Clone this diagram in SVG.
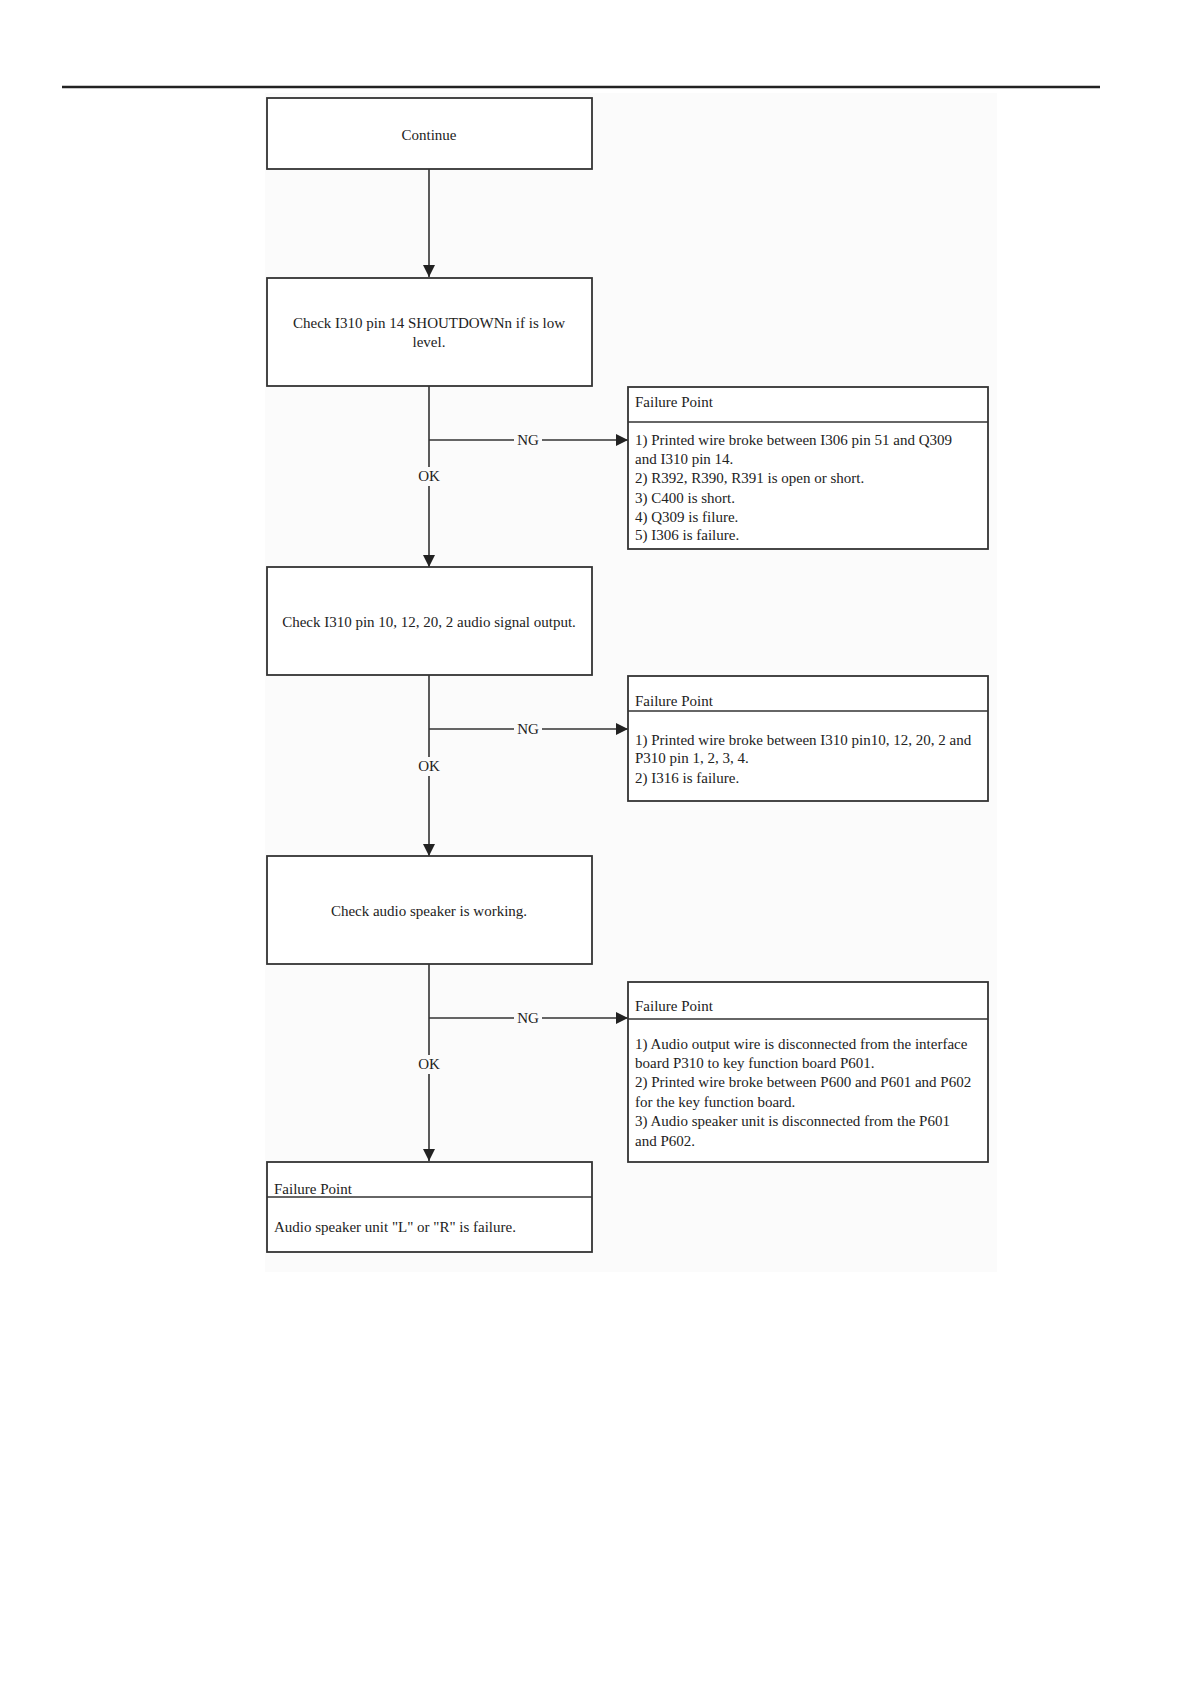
<svg xmlns="http://www.w3.org/2000/svg" width="1191" height="1685" viewBox="0 0 1191 1685">
<style>
.box{fill:#ffffff;stroke:#333333;stroke-width:1.8}
.ln{stroke:#333333;stroke-width:1.6;fill:none}
.t{font-family:"Liberation Serif","Times New Roman",serif;font-size:15px;fill:#222222}
.c{text-anchor:middle}
.lbl{font-family:"Liberation Serif","Times New Roman",serif;font-size:15px;fill:#222222;text-anchor:middle}
</style>
<defs>
<marker id="arr" viewBox="0 0 12 12" refX="12" refY="6" markerWidth="12" markerHeight="12" markerUnits="userSpaceOnUse" orient="auto">
<path d="M0,0 L12,6 L0,12 Z" fill="#222222"/>
</marker>
</defs>
<rect x="0" y="0" width="1191" height="1685" fill="#ffffff"/>
<line x1="62" y1="87" x2="1100" y2="87" stroke="#222222" stroke-width="2.5"/>
<rect x="265" y="93" width="732" height="1179" fill="#fbfbfb"/>

<g id="connectors">
<line class="ln" x1="429" y1="169" x2="429" y2="277" marker-end="url(#arr)"/>
<line class="ln" x1="429" y1="386" x2="429" y2="467"/>
<line class="ln" x1="429" y1="486" x2="429" y2="567" marker-end="url(#arr)"/>
<line class="ln" x1="429" y1="440" x2="514" y2="440"/>
<line class="ln" x1="542" y1="440" x2="628" y2="440" marker-end="url(#arr)"/>
<text class="lbl" x="528" y="445">NG</text>
<text class="lbl" x="429" y="481">OK</text>

<line class="ln" x1="429" y1="675" x2="429" y2="757"/>
<line class="ln" x1="429" y1="776" x2="429" y2="856" marker-end="url(#arr)"/>
<line class="ln" x1="429" y1="729" x2="514" y2="729"/>
<line class="ln" x1="542" y1="729" x2="628" y2="729" marker-end="url(#arr)"/>
<text class="lbl" x="528" y="734">NG</text>
<text class="lbl" x="429" y="771">OK</text>

<line class="ln" x1="429" y1="964" x2="429" y2="1055"/>
<line class="ln" x1="429" y1="1074" x2="429" y2="1161" marker-end="url(#arr)"/>
<line class="ln" x1="429" y1="1018" x2="514" y2="1018"/>
<line class="ln" x1="542" y1="1018" x2="628" y2="1018" marker-end="url(#arr)"/>
<text class="lbl" x="528" y="1023">NG</text>
<text class="lbl" x="429" y="1069">OK</text>
</g>

<g id="continue">
<rect class="box" x="267" y="98" width="325" height="71"/>
<text class="t c" x="429" y="140">Continue</text>
</g>

<g id="check-shutdown">
<rect class="box" x="267" y="278" width="325" height="108"/>
<text class="t c" x="429" y="328">Check I310 pin 14 SHOUTDOWNn if is low</text>
<text class="t c" x="429" y="347">level.</text>
</g>

<g id="failure-1">
<rect class="box" x="628" y="387" width="360" height="162"/>
<line class="ln" x1="628" y1="422" x2="988" y2="422"/>
<text class="t" x="635" y="407">Failure Point</text>
<text class="t" x="635" y="445">1) Printed wire broke between I306 pin 51 and Q309</text>
<text class="t" x="635" y="464">and I310 pin 14.</text>
<text class="t" x="635" y="483">2) R392, R390, R391 is open or short.</text>
<text class="t" x="635" y="503">3) C400 is short.</text>
<text class="t" x="635" y="522">4) Q309 is filure.</text>
<text class="t" x="635" y="540">5) I306 is failure.</text>
</g>

<g id="check-audio-output">
<rect class="box" x="267" y="567" width="325" height="108"/>
<text class="t c" x="429" y="627">Check I310 pin 10, 12, 20, 2 audio signal output.</text>
</g>

<g id="failure-2">
<rect class="box" x="628" y="676" width="360" height="125"/>
<line class="ln" x1="628" y1="711" x2="988" y2="711"/>
<text class="t" x="635" y="706">Failure Point</text>
<text class="t" x="635" y="745">1) Printed wire broke between I310 pin10, 12, 20, 2 and</text>
<text class="t" x="635" y="763">P310 pin 1, 2, 3, 4.</text>
<text class="t" x="635" y="783">2) I316 is failure.</text>
</g>

<g id="check-speaker">
<rect class="box" x="267" y="856" width="325" height="108"/>
<text class="t c" x="429" y="916">Check audio speaker is working.</text>
</g>

<g id="failure-3">
<rect class="box" x="628" y="982" width="360" height="180"/>
<line class="ln" x1="628" y1="1019" x2="988" y2="1019"/>
<text class="t" x="635" y="1011">Failure Point</text>
<text class="t" x="635" y="1049">1) Audio output wire is disconnected from the interface</text>
<text class="t" x="635" y="1068">board P310 to key function board P601.</text>
<text class="t" x="635" y="1087">2) Printed wire broke between P600 and P601 and P602</text>
<text class="t" x="635" y="1107">for the key function board.</text>
<text class="t" x="635" y="1126">3) Audio speaker unit is disconnected from the P601</text>
<text class="t" x="635" y="1146">and P602.</text>
</g>

<g id="failure-final">
<rect class="box" x="267" y="1162" width="325" height="90"/>
<line class="ln" x1="267" y1="1197" x2="592" y2="1197"/>
<text class="t" x="274" y="1194">Failure Point</text>
<text class="t" x="274" y="1232">Audio speaker unit "L" or "R" is failure.</text>
</g>
</svg>
